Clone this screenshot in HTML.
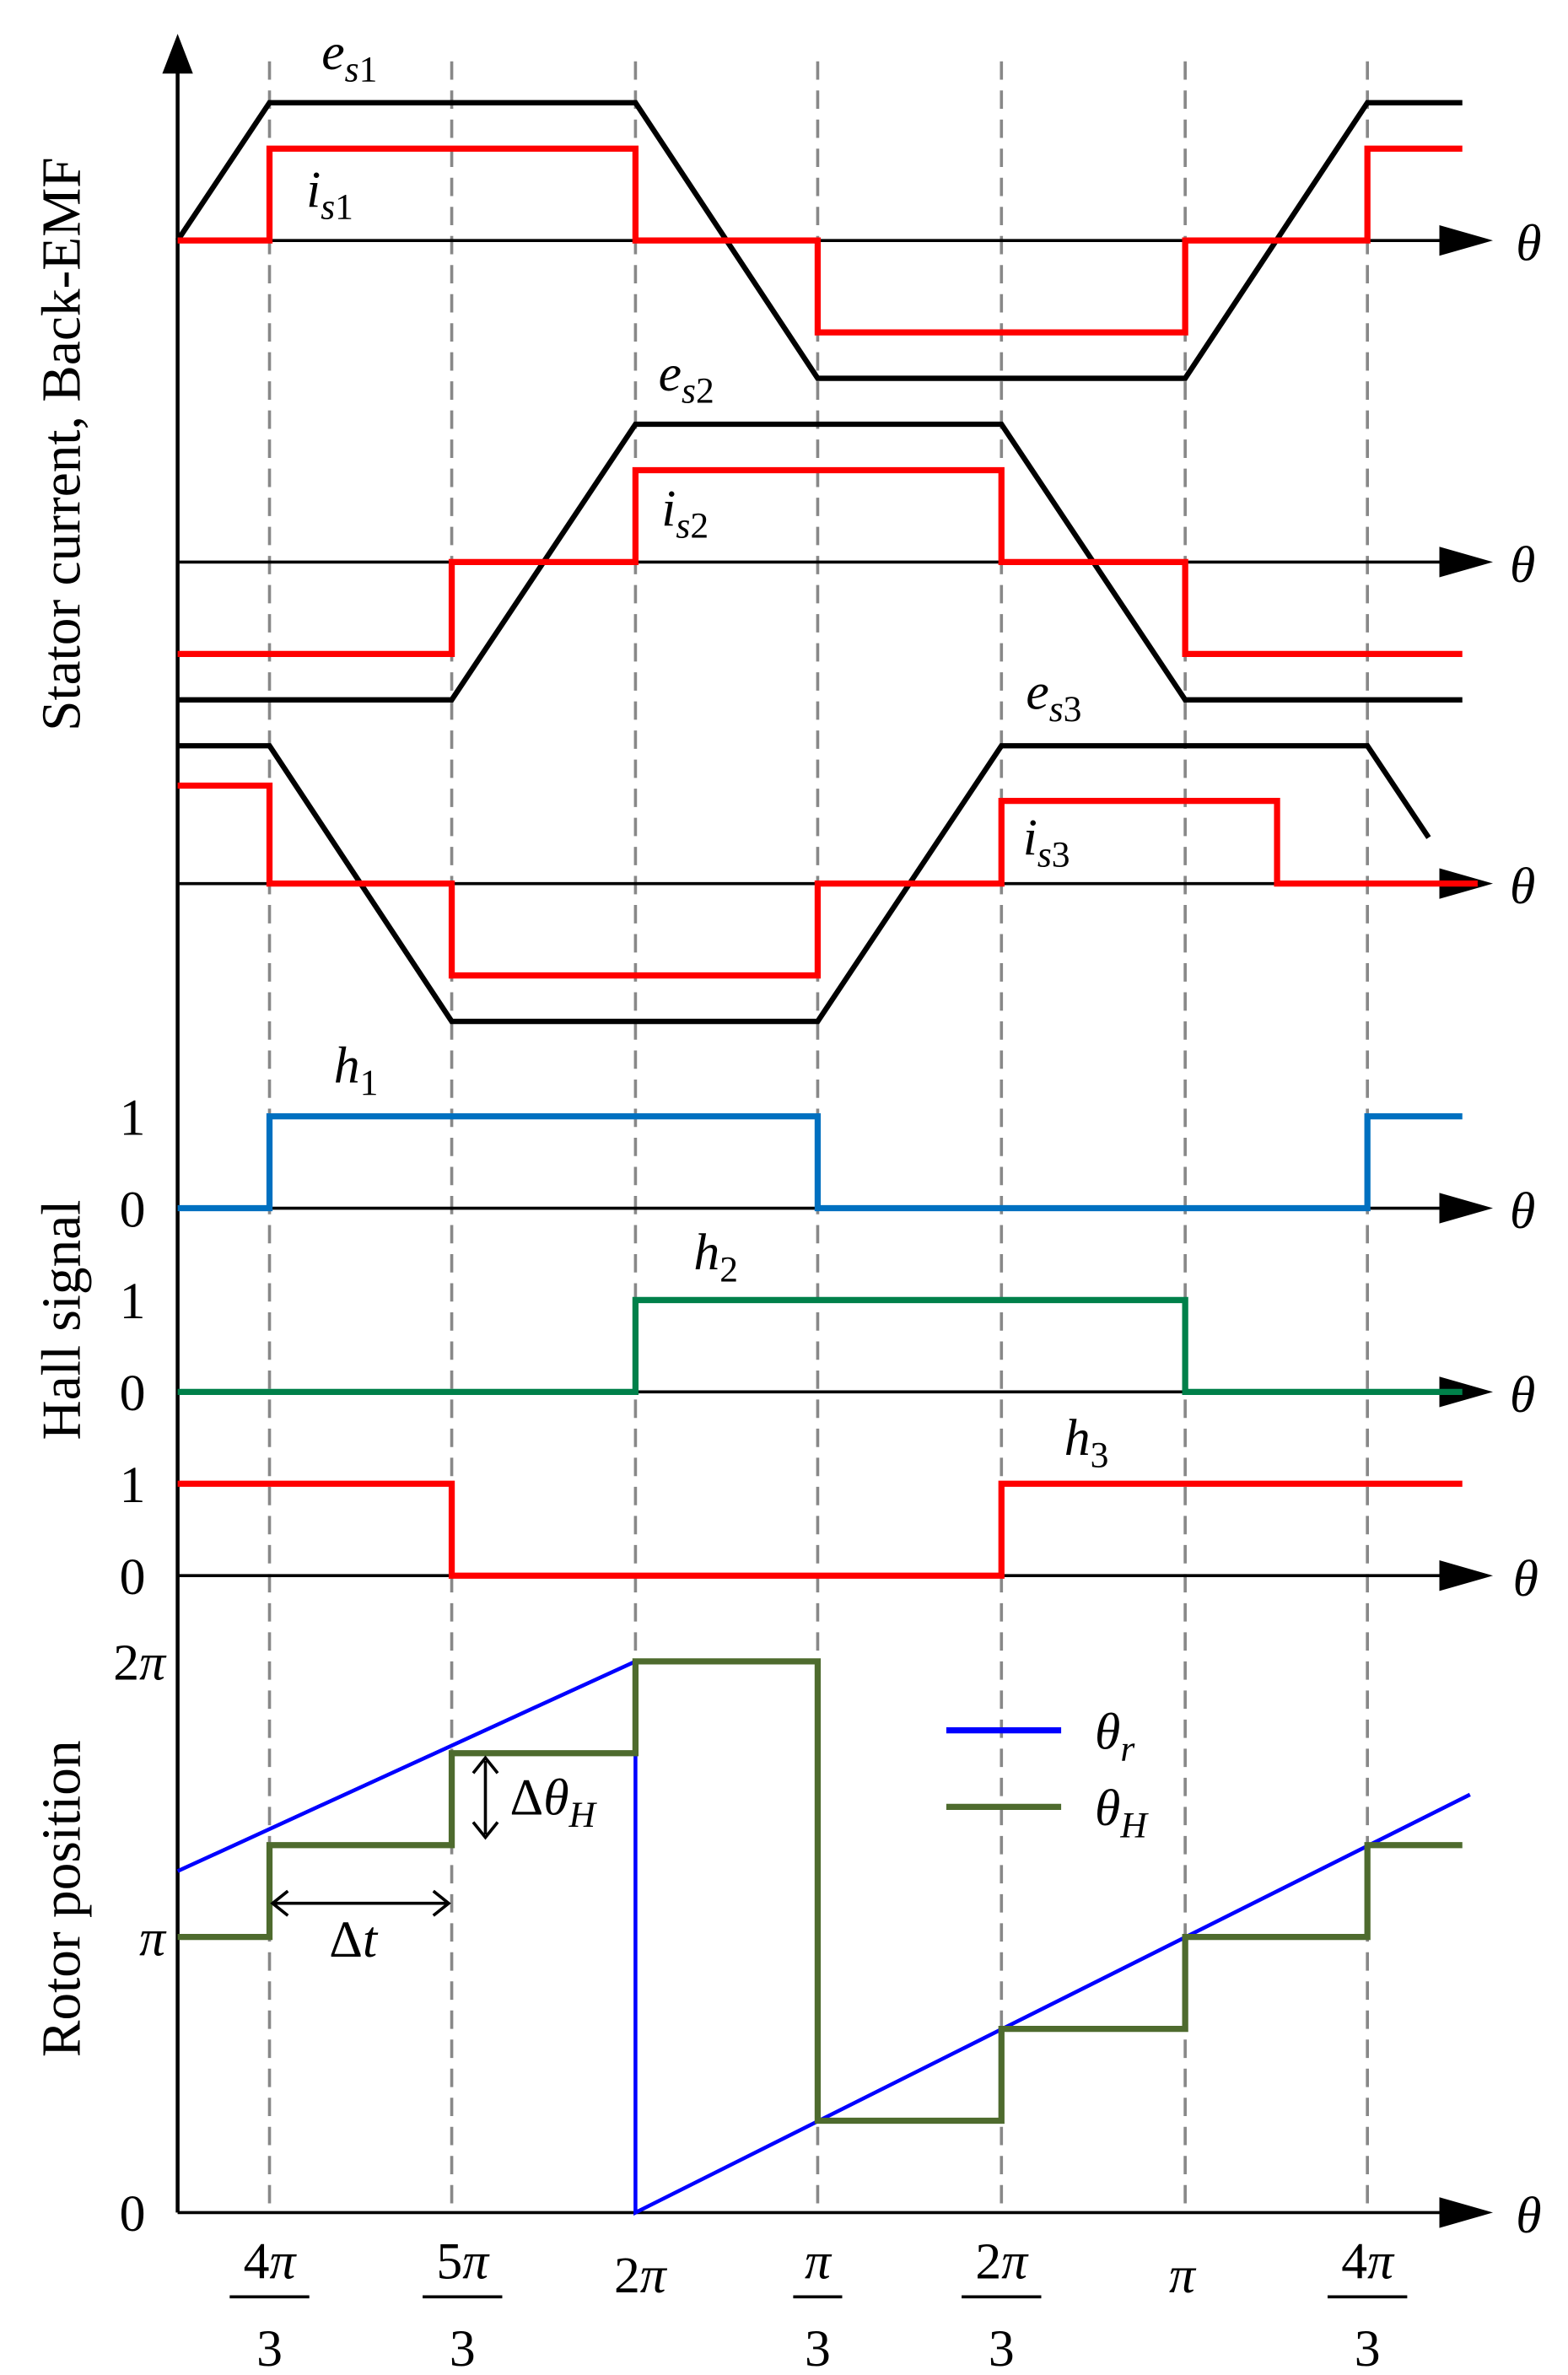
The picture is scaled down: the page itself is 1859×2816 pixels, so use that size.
<!DOCTYPE html>
<html><head><meta charset="utf-8"><style>
html,body{margin:0;padding:0;background:#fff}
svg{display:block}
text{font-family:"Liberation Serif",serif;fill:#000}
</style></head><body>
<svg width="1859" height="2816" viewBox="0 0 1024 1551" xmlns="http://www.w3.org/2000/svg">
<defs>
<marker id="ar" markerWidth="10" markerHeight="10" refX="9" refY="5" orient="auto" markerUnits="userSpaceOnUse"><path d="M0,0 L10,5 L0,10 z" fill="#000"/></marker>
</defs>
<!-- dashed lines -->
<g stroke="#888" stroke-width="2" stroke-dasharray="12,7">
<line x1="176" y1="40" x2="176" y2="1445"/><line x1="295" y1="40" x2="295" y2="1445"/>
<line x1="415" y1="40" x2="415" y2="1445"/><line x1="534" y1="40" x2="534" y2="1445"/>
<line x1="654" y1="40" x2="654" y2="1445"/><line x1="774" y1="40" x2="774" y2="1445"/>
<line x1="893" y1="40" x2="893" y2="1445"/>
</g>
<!-- vertical axis -->
<line x1="116" y1="1445" x2="116" y2="40" stroke="#000" stroke-width="2.5"/>
<path d="M106,48 L116,22 L126,48 z" fill="#000"/>
<!-- horizontal axes -->
<g stroke="#000" stroke-width="2">
<line x1="116" y1="157" x2="945" y2="157"/><line x1="116" y1="367" x2="945" y2="367"/>
<line x1="116" y1="577" x2="945" y2="577"/><line x1="116" y1="789" x2="945" y2="789"/>
<line x1="116" y1="909" x2="945" y2="909"/><line x1="116" y1="1029" x2="945" y2="1029"/>
<line x1="116" y1="1445" x2="945" y2="1445"/>
</g>
<g fill="#000">
<path d="M940,147 L975,157 L940,167 z"/><path d="M940,357 L975,367 L940,377 z"/>
<path d="M940,567 L975,577 L940,587 z"/><path d="M940,779 L975,789 L940,799 z"/>
<path d="M940,899 L975,909 L940,919 z"/><path d="M940,1019 L975,1029 L940,1039 z"/>
<path d="M940,1435 L975,1445 L940,1455 z"/>
</g>
<g font-size="34" font-style="italic">
<text x="990" y="170">θ</text><text x="986" y="380">θ</text><text x="986" y="590">θ</text>
<text x="986" y="802">θ</text><text x="986" y="922">θ</text><text x="988" y="1042">θ</text>
<text x="990" y="1458">θ</text>
</g>
<!-- back emf -->
<g fill="none" stroke="#000" stroke-width="3.5">
<polyline points="116,157 176,67 415,67 534,247 774,247 893,67 955,67"/>
<polyline points="116,457 295,457 415,277 654,277 774,457 955,457"/>
<polyline points="116,487 176,487 295,667 534,667 654,487 893,487 933,547"/>
</g>
<!-- currents -->
<g fill="none" stroke="#f00" stroke-width="4">
<polyline points="116,157 176,157 176,97 415,97 415,157 534,157 534,217 774,217 774,157 893,157 893,97 955,97"/>
<polyline points="116,427 295,427 295,367 415,367 415,307 654,307 654,367 774,367 774,427 955,427"/>
<polyline points="116,513 176,513 176,577 295,577 295,637 534,637 534,577 654,577 654,523 834,523 834,577 965,577"/>
<polyline points="116,969 295,969 295,1029 654,1029 654,969 955,969"/>
</g>
<polyline fill="none" stroke="#0070c0" stroke-width="4" points="116,789 176,789 176,729 534,729 534,789 893,789 893,729 955,729"/>
<polyline fill="none" stroke="#00804a" stroke-width="4" points="116,909 415,909 415,849 774,849 774,909 955,909"/>
<!-- rotor -->
<polyline fill="none" stroke="#0000ff" stroke-width="2.5" points="116,1222 415,1085 415,1445 960,1172"/>
<polyline fill="none" stroke="#4e6b2e" stroke-width="4" points="116,1265 176,1265 176,1205 295,1205 295,1145 415,1145 415,1085 534,1085 534,1385 654,1385 654,1325 774,1325 774,1265 893,1265 893,1205 955,1205"/>
<line x1="618" y1="1130" x2="693" y2="1130" stroke="#0000ff" stroke-width="4"/>
<line x1="618" y1="1180" x2="693" y2="1180" stroke="#4e6b2e" stroke-width="4"/>
<text x="715" y="1142" font-size="34" font-style="italic">θ<tspan font-size="24" dy="8">r</tspan></text>
<text x="715" y="1192" font-size="34" font-style="italic">θ<tspan font-size="24" dy="8">H</tspan></text>
<!-- arrows -->
<g stroke="#000" stroke-width="2" fill="none">
<line x1="317" y1="1150" x2="317" y2="1198"/>
<polyline points="309,1158 317,1148 325,1158"/><polyline points="309,1190 317,1200 325,1190"/>
<line x1="178" y1="1243" x2="293" y2="1243"/>
<polyline points="188,1235 178,1243 188,1251"/><polyline points="283,1235 293,1243 283,1251"/>
</g>
<text x="333" y="1185" font-size="34">Δ<tspan font-style="italic">θ</tspan><tspan font-size="24" dy="8" font-style="italic">H</tspan></text>
<text x="215" y="1278" font-size="34">Δ<tspan font-style="italic">t</tspan></text>
<!-- labels -->
<g font-size="34" font-style="italic">
<text x="210" y="45">e<tspan font-size="24" dy="8">s</tspan><tspan font-size="24" font-style="normal">1</tspan></text>
<text x="200" y="135">i<tspan font-size="24" dy="8">s</tspan><tspan font-size="24" font-style="normal">1</tspan></text>
<text x="430" y="255">e<tspan font-size="24" dy="8">s</tspan><tspan font-size="24" font-style="normal">2</tspan></text>
<text x="432" y="343">i<tspan font-size="24" dy="8">s</tspan><tspan font-size="24" font-style="normal">2</tspan></text>
<text x="670" y="463">e<tspan font-size="24" dy="8">s</tspan><tspan font-size="24" font-style="normal">3</tspan></text>
<text x="668" y="558">i<tspan font-size="24" dy="8">s</tspan><tspan font-size="24" font-style="normal">3</tspan></text>
<text x="218" y="707">h<tspan font-size="24" dy="8" font-style="normal">1</tspan></text>
<text x="453" y="829">h<tspan font-size="24" dy="8" font-style="normal">2</tspan></text>
<text x="695" y="950">h<tspan font-size="24" dy="8" font-style="normal">3</tspan></text>
</g>
<g font-size="34" text-anchor="end">
<text x="95" y="741">1</text><text x="95" y="801">0</text>
<text x="95" y="861">1</text><text x="95" y="921">0</text>
<text x="95" y="981">1</text><text x="95" y="1041">0</text>
<text x="108" y="1097">2<tspan font-style="italic">π</tspan></text>
<text x="108" y="1277"><tspan font-style="italic">π</tspan></text>
<text x="95" y="1457">0</text>
</g>
<g font-size="36" text-anchor="middle">
<text transform="translate(52,290) rotate(-90)">Stator current, Back-EMF</text>
<text transform="translate(52,862) rotate(-90)">Hall signal</text>
<text transform="translate(52,1240) rotate(-90)">Rotor position</text>
</g>
<!-- bottom fractions -->
<g font-size="34" text-anchor="middle">
<text x="176" y="1488">4<tspan font-style="italic">π</tspan></text><line x1="150" y1="1500" x2="202" y2="1500" stroke="#000" stroke-width="2"/><text x="176" y="1545">3</text>
<text x="302" y="1488">5<tspan font-style="italic">π</tspan></text><line x1="276" y1="1500" x2="328" y2="1500" stroke="#000" stroke-width="2"/><text x="302" y="1545">3</text>
<text x="418" y="1497">2<tspan font-style="italic">π</tspan></text>
<text x="534" y="1488" font-style="italic">π</text><line x1="518" y1="1500" x2="550" y2="1500" stroke="#000" stroke-width="2"/><text x="534" y="1545">3</text>
<text x="654" y="1488">2<tspan font-style="italic">π</tspan></text><line x1="628" y1="1500" x2="680" y2="1500" stroke="#000" stroke-width="2"/><text x="654" y="1545">3</text>
<text x="772" y="1497" font-style="italic">π</text>
<text x="893" y="1488">4<tspan font-style="italic">π</tspan></text><line x1="867" y1="1500" x2="919" y2="1500" stroke="#000" stroke-width="2"/><text x="893" y="1545">3</text>
</g>
</svg>
</body></html>
